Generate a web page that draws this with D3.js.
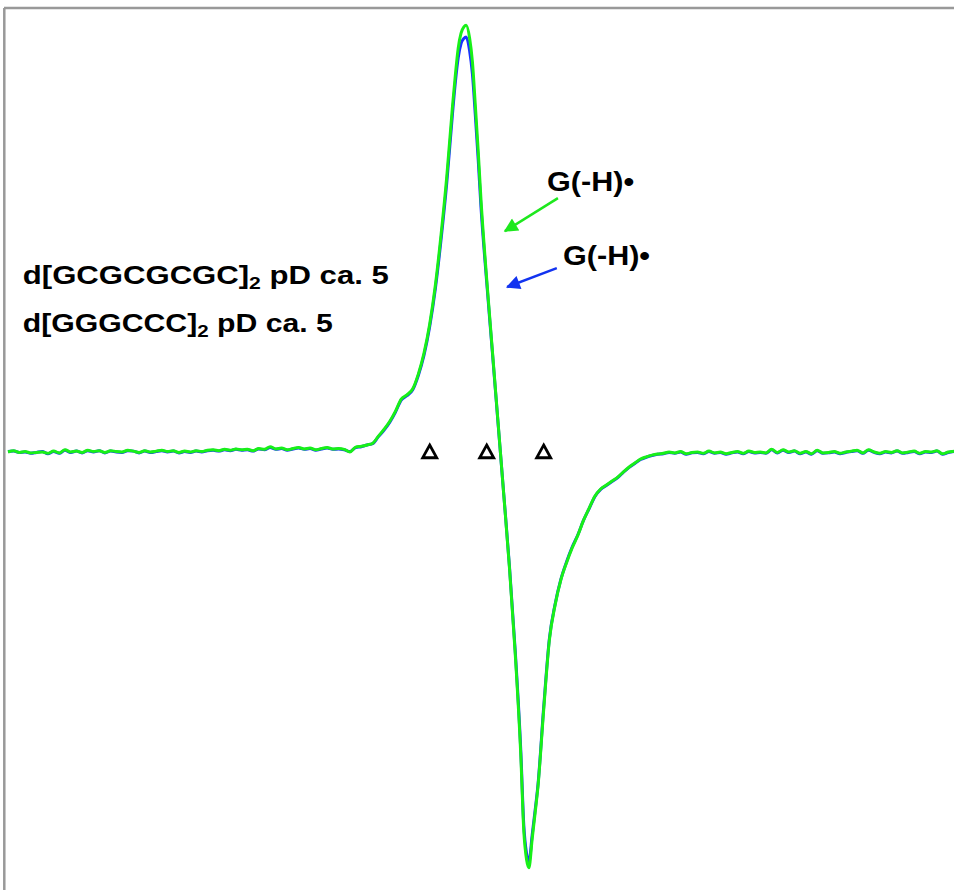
<!DOCTYPE html>
<html>
<head>
<meta charset="utf-8">
<script src="https://cdn.jsdelivr.net/npm/d3@7"></script>
<style>
  body { margin: 0; background: #fff; }
  text { font-family: "Liberation Sans", Arial, Helvetica, sans-serif; font-weight: bold; white-space: pre; }
</style>
</head>
<body>
<div id="container"></div>
<script>
/* CONSTANTS AND GLOBALS */
const width = 954,
  height = 890;

// magnetic field offset (G) of each sample
const fields = [
  -84, -83, -82, -81, -80, -79, -78, -77, -76, -75,
  -74, -73, -72, -71, -70, -69, -68, -67, -66, -65,
  -64, -63, -62, -61, -60, -59, -58, -57, -56, -55,
  -54, -53, -52, -51, -50, -49, -48, -47, -46, -45,
  -44, -43, -42, -41, -40, -39, -38, -37, -36, -35,
  -34, -33, -32, -31, -30, -29, -28, -27, -26, -25,
  -24, -23, -22, -21, -20, -19, -18, -17, -16, -15,
  -14, -13, -12, -11, -10, -9, -8, -7, -6,
  -5.5, -5, -4.5, -4, -3.6, -3, -2.5, -2, -1.5, -1,
  0, 1, 2, 3, 4, 5, 6,
  6.5, 7, 7.4, 8, 8.5, 9,
  10, 11, 12, 13, 14, 15, 16, 17, 18, 19,
  20, 21, 22, 23, 24, 25, 26, 27, 28, 29,
  30, 31, 32, 33, 34, 35, 36, 37, 38, 39,
  40, 41, 42, 43, 44, 45, 46, 47, 48, 49,
  50, 51, 52, 53, 54, 55, 56, 57, 58, 59,
  60, 61, 62, 63, 64, 65, 66, 67, 68, 69,
  70, 71, 72, 73, 74, 75, 76, 77, 78, 79,
  80, 81, 82
];

// green trace
const greenSignal = [
  0.0, 0.3, -0.1, 0.1, -0.2, -0.1, 0.0, -0.3, 0.2, -0.2,
  0.5, 0.0, 0.2, -0.1, 0.4, 0.1, 0.3, -0.1, 0.3, 0.1,
  0.0, 0.4, 0.2, -0.1, 0.3, 0.0, 0.2, 0.4, 0.1, 0.3,
  -0.1, 0.2, 0.0, 0.3, 0.1, 0.4, 0.5, 0.3, 0.6, 0.4,
  0.7, 0.5, 0.6, 0.3, 0.8, 0.6, 1.2, 0.7, 0.9, 0.5,
  0.8, 1.0, 0.7, 0.9, 0.5, 0.8, 1.0, 0.7, 0.8, 0.6,
  0.0, 1.1, 1.3, 1.6, 2.0, 3.6, 5.2, 7.0, 9.3, 12.0,
  13.0, 14.3, 17.7, 22.5, 29.1, 38.0, 49.5, 62.7, 78.6,
  85.7, 91.8, 95.2, 96.6, 97.0, 94.1, 88.6, 78.9, 68.6, 57.3,
  39.3, 23.0, 6.6, -9.8, -26.4, -45.7, -69.5,
  -85.9, -92.7, -94.5, -87.7, -82.0, -76.0,
  -58.6, -42.7, -34.8, -29.1, -25.2, -21.8, -18.9, -15.5, -12.7, -10.0,
  -8.4, -7.5, -6.6, -5.7, -4.5, -3.4, -2.5, -1.6, -1.1, -0.7,
  -0.45, -0.3, 0.0, -0.2, 0.1, -0.4, -0.1, 0.0, -0.3, 0.2,
  -0.2, 0.0, -0.4, -0.1, 0.1, -0.3, 0.2, -0.1, 0.0, -0.2,
  0.6, -0.1, 0.5, 0.0, 0.3, -0.3, 0.1, -0.4, 0.4, -0.2,
  -0.1, 0.1, -0.3, 0.0, 0.2, 0.4, -0.2, 0.5, 0.0, -0.3,
  0.1, -0.1, 0.3, -0.2, 0.0, 0.2, -0.3, 0.1, 0.0, 0.3,
  -0.4, 0.0, 0.2
];

// blue trace
const blueSignal = [
  0.1, 0.2, -0.1, 0.0, -0.3, -0.1, 0.1, -0.4, 0.1, -0.3,
  0.4, -0.1, 0.2, -0.2, 0.3, 0.0, 0.3, -0.2, 0.2, 0.0,
  -0.1, 0.3, 0.2, -0.2, 0.2, -0.1, 0.1, 0.3, 0.0, 0.2,
  -0.2, 0.1, -0.1, 0.2, 0.0, 0.3, 0.4, 0.2, 0.5, 0.3,
  0.6, 0.4, 0.5, 0.2, 0.7, 0.5, 1.0, 0.6, 0.8, 0.4,
  0.7, 0.9, 0.6, 0.8, 0.4, 0.7, 0.9, 0.6, 0.7, 0.5,
  0.1, 1.0, 1.2, 1.6, 1.9, 3.5, 5.0, 6.8, 9.1, 11.8,
  12.8, 14.1, 17.4, 22.0, 28.5, 37.2, 48.4, 61.3, 76.9,
  84.0, 89.6, 92.8, 94.0, 94.3, 91.2, 85.8, 76.6, 66.6, 55.6,
  38.6, 22.6, 6.4, -9.7, -26.1, -45.1, -68.4,
  -84.6, -91.3, -93.2, -86.8, -81.4, -75.6,
  -58.0, -42.4, -34.6, -29.0, -25.0, -21.6, -18.8, -15.5, -12.8, -10.1,
  -8.5, -7.6, -6.7, -5.8, -4.6, -3.5, -2.6, -1.7, -1.2, -0.8,
  -0.5, -0.4, -0.1, -0.3, 0.0, -0.5, -0.2, -0.1, -0.4, 0.1,
  -0.3, -0.1, -0.5, -0.2, 0.0, -0.4, 0.1, -0.2, -0.1, -0.3,
  0.5, -0.2, 0.4, -0.1, 0.2, -0.4, 0.0, -0.5, 0.3, -0.3,
  -0.2, 0.0, -0.4, -0.1, 0.1, 0.3, -0.3, 0.4, -0.1, -0.4,
  0.0, -0.2, 0.2, -0.3, -0.1, 0.1, -0.4, 0.0, -0.1, 0.2,
  -0.5, -0.1, 0.1
];

// field markers (triangles)
const markerFields = [-10, 0, 10];

// sample labels
const sampleLabels = ["d[GCGCGCGC]", "d[GGGCCC]"];
const labelSuffix = " pD ca. 5";
const radicalLabel = "G(-H)\u2022";

/* SCALES */
const xScale = d3.scaleLinear()
  .domain([-84, 82])
  .range([8, 954]);

const yScale = d3.scaleLinear()
  .domain([-100, 100])
  .range([892, 12]);

/* DRAW */
const svg = d3.select("#container")
  .append("svg")
  .attr("width", width)
  .attr("height", height);

// arrow heads
const defs = svg.append("defs");
[["arrowGreen", "#1ee81e"], ["arrowBlue", "#1233f0"]].forEach(([id, col]) => {
  defs.append("marker")
    .attr("id", id)
    .attr("viewBox", "0 0 10 10")
    .attr("refX", 9)
    .attr("refY", 5)
    .attr("markerUnits", "userSpaceOnUse")
    .attr("markerWidth", 18)
    .attr("markerHeight", 14)
    .attr("orient", "auto")
    .append("path")
    .attr("d", "M0,0 L10,5 L0,10 z")
    .attr("fill", col);
});

// frame (top and left only)
svg.append("line")
  .attr("x1", 4).attr("x2", width)
  .attr("y1", 8).attr("y2", 8)
  .attr("stroke", "#999").attr("stroke-width", 2.5);
svg.append("line")
  .attr("x1", 4.3).attr("x2", 4.3)
  .attr("y1", 8).attr("y2", height)
  .attr("stroke", "#999").attr("stroke-width", 2.5);

// traces
const line = d3.line()
  .x(d => xScale(d[0]))
  .y(d => yScale(d[1]))
  .curve(d3.curveMonotoneX);

const blueData = fields.map((f, i) => [f, blueSignal[i]]);
const greenData = fields.map((f, i) => [f, greenSignal[i]]);

svg.append("path")
  .datum(blueData)
  .attr("d", line)
  .attr("fill", "none")
  .attr("stroke", "#1a33ff")
  .attr("stroke-width", 3)
  .attr("stroke-linejoin", "round");

svg.append("path")
  .datum(greenData)
  .attr("d", line)
  .attr("fill", "none")
  .attr("stroke", "#18f018")
  .attr("stroke-width", 3)
  .attr("stroke-linejoin", "round");

// triangles
const tri = d3.symbol().type(d3.symbolTriangle).size(64);
svg.selectAll(".tri")
  .data(markerFields)
  .join("path")
  .attr("class", "tri")
  .attr("d", tri)
  .attr("transform", d => `translate(${xScale(d)},${yScale(0) + 1.5}) scale(1.15,1.2)`)
  .attr("fill", "#fff")
  .attr("stroke", "#000")
  .attr("stroke-width", 2.4);

// sample labels
const labelY = [38.2, 27.3];
const labelW = [366, 310];
sampleLabels.forEach((s, i) => {
  const t = svg.append("text")
    .attr("x", xScale(-81.4))
    .attr("y", yScale(labelY[i]))
    .attr("font-size", 25)
    .attr("fill", "#000")
    .attr("textLength", labelW[i])
    .attr("lengthAdjust", "spacingAndGlyphs");
  t.append("tspan").text(s);
  t.append("tspan").attr("font-size", 17).attr("dy", 5).text("2");
  t.append("tspan").attr("dy", -5).text(labelSuffix);
});

// radical labels with arrows
const arrows = [
  { tail: [12.5, 57.7], tip: [3.2, 50.2], label: [10.6, 59.3], color: "#1ee81e", marker: "arrowGreen" },
  { tail: [12.3, 41.8], tip: [3.6, 37.5], label: [13.4, 42.5], color: "#1233f0", marker: "arrowBlue" }
];
arrows.forEach(a => {
  svg.append("line")
    .attr("x1", xScale(a.tail[0])).attr("y1", yScale(a.tail[1]))
    .attr("x2", xScale(a.tip[0])).attr("y2", yScale(a.tip[1]))
    .attr("stroke", a.color)
    .attr("stroke-width", 2.5)
    .attr("marker-end", `url(#${a.marker})`);
  svg.append("text")
    .attr("x", xScale(a.label[0]))
    .attr("y", yScale(a.label[1]))
    .attr("font-size", 28)
    .attr("fill", "#000")
    .attr("textLength", 87)
    .attr("lengthAdjust", "spacingAndGlyphs")
    .text(radicalLabel);
});
</script>
</body>
</html>
